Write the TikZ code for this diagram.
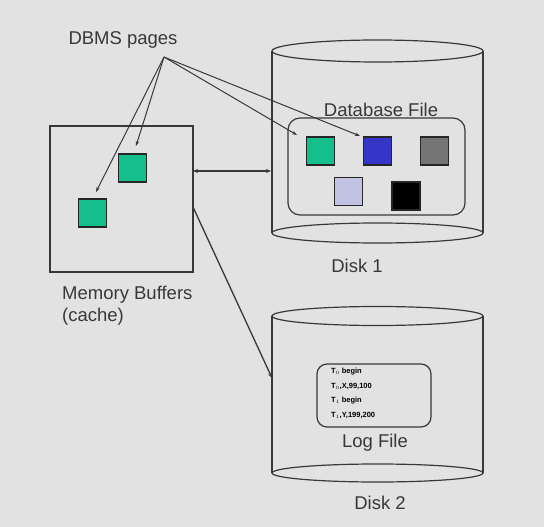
\documentclass[tikz,border=0pt]{standalone}
\usepackage{fontspec}
\setmainfont{Liberation Sans}
\usetikzlibrary{arrows.meta}
\definecolor{bg}{HTML}{E2E2E2}
\definecolor{ink}{HTML}{383838}
\definecolor{pgreen}{HTML}{14BF8C}
\definecolor{pblue}{HTML}{3535C8}
\definecolor{pgray}{HTML}{757575}
\definecolor{plav}{HTML}{C2C2E2}
\begin{document}
\begin{tikzpicture}[x=1pt,y=-1pt,
  line/.style={draw=ink, line width=1.2pt},
  pagebox/.style={draw=black!85, line width=1.2pt, inner sep=0pt, minimum width=28pt, minimum height=28pt},
  lbl/.style={text=ink, font=\fontsize{18.5}{22}\selectfont, inner sep=0pt},
  arr/.style={draw=ink, line width=1pt, -{Stealth[length=5pt,width=3.5pt]}},
  ghost/.style={draw=none, inner sep=0pt}]
\fill[bg] (0,0) rectangle (544,527);
\useasboundingbox (0,0) rectangle (544,527);

% Memory buffers
\node[line, minimum width=143pt, minimum height=146pt, inner sep=0pt] (mem) at (121.5,199) {};
\node[pagebox, fill=pgreen] (mg1) at (132.5,168) {};
\node[pagebox, fill=pgreen] (mg2) at (92.5,213) {};
\node[lbl, anchor=north west, align=left, font=\fontsize{18.5}{22}\selectfont] (memlbl) at (62,286) {Memory Buffers\\(cache)};

% DBMS pages label
\node[lbl] (dbms) at (123,40) {DBMS pages};
\coordinate (src) at (164,57);

% Disk 1
\draw[line] (272,51) -- (272,233);
\draw[line] (483,51) -- (483,233);
\draw[line] (377.5,51) ellipse [x radius=105.5, y radius=11];
\draw[line] (377.5,233) ellipse [x radius=105.5, y radius=10];
\node[ghost, minimum width=211pt, minimum height=182pt] (disk1) at (377.5,142) {};
\node[lbl] (dbflbl) at (381,110) {Database File};
\node[line, rounded corners=12pt, minimum width=177pt, minimum height=97pt, inner sep=0pt] (dbf) at (376.5,166.5) {};
\node[pagebox, fill=pgreen] (dg) at (320.5,151) {};
\node[pagebox, fill=pblue] (db) at (377.5,151) {};
\node[pagebox, fill=pgray] (dgr) at (434.5,151) {};
\node[pagebox, fill=plav] (dl) at (348.5,191.5) {};
\node[pagebox, fill=black] (dk) at (406,196) {};
\node[lbl] (d1lbl) at (357,266) {Disk 1};

% Disk 2
\draw[line] (272,316) -- (272,473);
\draw[line] (483,316) -- (483,473);
\draw[line] (377.5,316) ellipse [x radius=105.5, y radius=9.5];
\draw[line] (377.5,473) ellipse [x radius=105.5, y radius=9];
\node[ghost, minimum width=211pt, minimum height=157pt] (disk2) at (377.5,394.5) {};
\node[line, rounded corners=10pt, minimum width=114pt, minimum height=63pt, inner sep=0pt] (logf) at (374,395.5) {};
\node[text=black, anchor=north west, align=left, inner sep=0pt, font=\fontsize{7.5}{14.5}\selectfont\bfseries] (logtxt) at (331,368) {T$_0$ begin\\T$_0$,X,99,100\\T$_1$ begin\\T$_1$,Y,199,200};
\node[lbl] (loglbl) at (375,443) {Log File};
\node[lbl] (d2lbl) at (380,503) {Disk 2};

% connectors
\coordinate (e1) at (96,192);
\coordinate (e2) at (136,146);
\coordinate (e3) at (297,135);
\coordinate (e4) at (360,136);
\draw[arr] (src) -- (e1);
\draw[arr] (src) -- (e2);
\draw[arr] (src) -- (e3);
\draw[arr] (src) -- (e4);

\coordinate (ma) at (193,171);
\coordinate (da) at (271,171);
\draw[draw=ink, line width=1.3pt, {Stealth[length=5pt,width=4pt]}-{Stealth[length=5pt,width=4pt]}] (ma) -- (da);

\coordinate (mb) at (193,207);
\coordinate (db2) at (272,378);
\draw[draw=ink, line width=1.3pt, -{Stealth[length=5pt,width=4pt]}] (mb) -- (db2);
\end{tikzpicture}
\end{document}
